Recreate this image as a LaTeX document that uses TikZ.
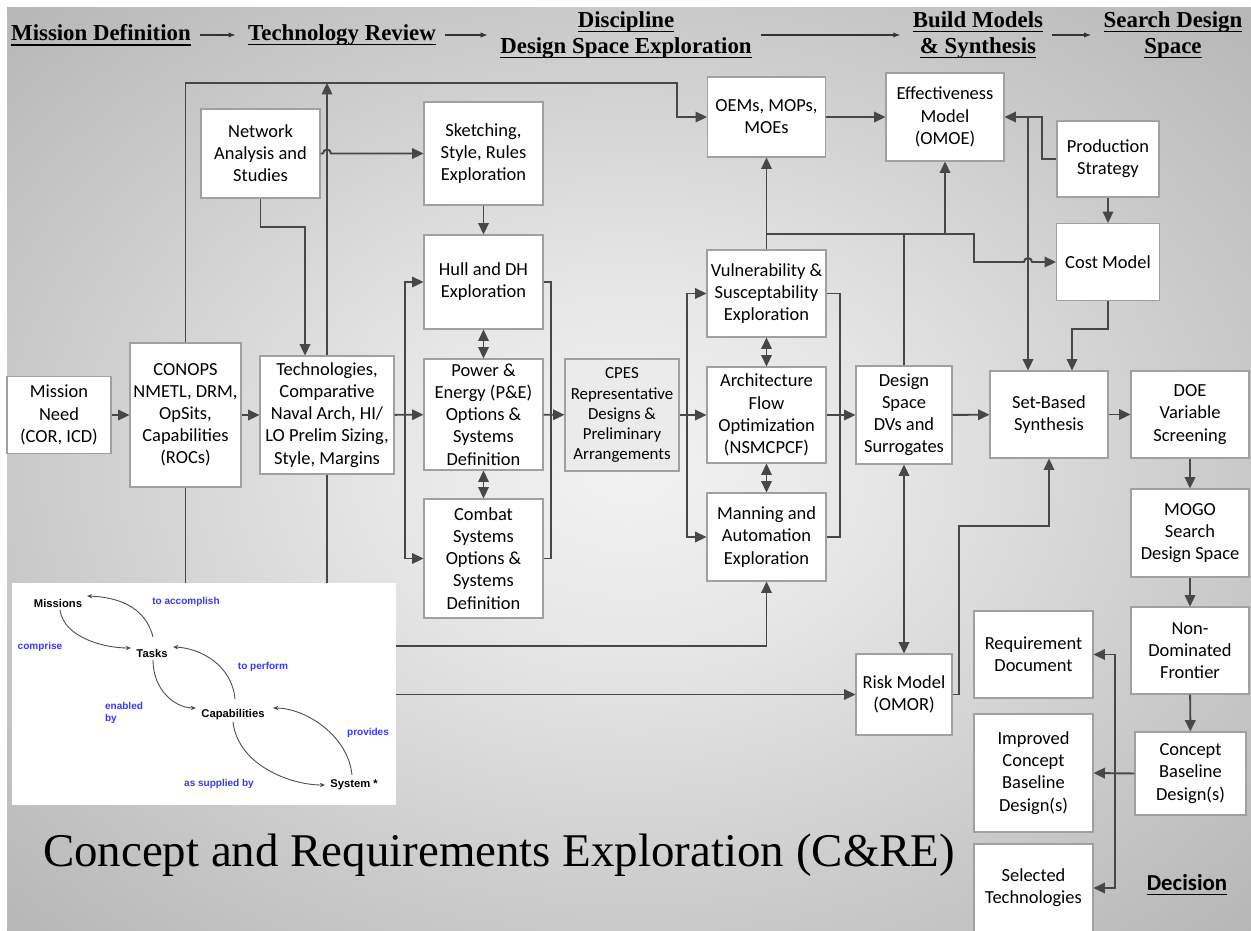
\documentclass[tikz,border=0pt]{standalone}
\usepackage{fontspec}
\setmainfont{Liberation Serif}
\newfontfamily\boxfont{Carlito}
\newfontfamily\arialfont{Liberation Sans}
\usetikzlibrary{calc,positioning,arrows.meta}

\definecolor{linegray}{HTML}{474747}
\definecolor{boxedge}{HTML}{A0A0A0}
\definecolor{cpesfill}{HTML}{EBEBEB}
\definecolor{lblblue}{HTML}{3A3AF0}
\definecolor{bgA}{HTML}{F2F2F2}
\definecolor{bgB}{HTML}{E6E6E6}
\definecolor{bgC}{HTML}{C9C9C9}
\definecolor{bgD}{HTML}{AEAEAE}
\definecolor{bgE}{HTML}{9C9C9C}
\pgfdeclareradialshading{bgshade}{\pgfpoint{0bp}{0bp}}{color(0bp)=(bgA); color(10bp)=(bgB); color(25bp)=(bgC); color(40bp)=(bgD); color(50bp)=(bgE)}

% underline at a fixed depth, crossing descenders
\newcommand\hul[1]{\setbox0\hbox{#1}\rlap{\rule[-2.8pt]{\wd0}{0.8pt}}\box0}

\begin{document}
\begin{tikzpicture}[x=0.02cm,y=-0.02cm,
>={Triangle[length=6.5pt,width=6pt]},
blk/.style={draw=boxedge,line width=0.6pt,fill=white,align=center,inner sep=1pt,
  font=\boxfont\fontsize{10.5}{12.6}\selectfont},
sz/.style 2 args={minimum width=#1*0.02cm,minimum height=#2*0.02cm},
wire/.style={draw=linegray,line width=1.1pt},
hdr/.style={font=\fontsize{13}{14.7}\selectfont\bfseries,align=center,inner sep=1pt},
hdrarrow/.style={draw=black!80,line width=0.6pt,-{Latex[length=4pt,width=3pt]},
  shorten <=4pt,shorten >=6pt},
inlbl/.style={font=\arialfont\bfseries\fontsize{6.4}{7}\selectfont,inner sep=1pt},
inverb/.style={font=\arialfont\bfseries\fontsize{5.7}{7}\selectfont,text=lblblue,
  inner sep=1pt,align=left},
inarrow/.style={draw=black!70,line width=0.5pt,-{Stealth[length=3pt,width=2.5pt]}}]

% background
\useasboundingbox (0,0) rectangle (1251,930);
\fill[white] (0,0) rectangle (1251,930);
\shade[shading=bgshade] (7,7) rectangle (1251,930);

% header
\node[hdr] (hmission) at (101,35) {\hul{Mission Definition}};
\node[hdr] (htech) at (342,35) {\hul{Technology Review}};
\node[hdr] (hdisc) at (626,35) {\hul{Discipline}\\\hul{Design Space Exploration}};
\node[hdr] (hbuild) at (978,35) {\hul{Build Models}\\\hul{\& Synthesis}};
\node[hdr] (hsearch) at (1173,35) {\hul{Search Design}\\\hul{Space}};
\draw[hdrarrow] (hmission) -- (htech);
\draw[hdrarrow] (htech) -- (hdisc);
\draw[hdrarrow] (hdisc) -- (hbuild);
\draw[hdrarrow] (hbuild) -- (hsearch);

% boxes
\node[blk,sz={104}{77}] (need) at (59,415) {Mission\\Need\\(COR, ICD)};
\node[blk,sz={111}{144}] (conops) at (185.5,415) {CONOPS\\NMETL, DRM,\\OpSits,\\Capabilities\\(ROCs)};
\node[blk,sz={134}{118}] (tech) at (327,415) {Technologies,\\Comparative\\Naval Arch, HI/\\LO Prelim Sizing,\\Style, Margins};
\node[blk,sz={119}{89}] (netw) at (260.5,153.5) {Network\\Analysis and\\Studies};
\node[blk,sz={119}{103}] (sketch) at (483.5,153.5) {Sketching,\\Style, Rules\\Exploration};
\node[blk,sz={119}{94}] (hull) at (483.5,282) {Hull and DH\\Exploration};
\node[blk,sz={119}{111}] (power) at (483.5,414.5) {Power \&\\Energy (P\&E)\\Options \&\\Systems\\Definition};
\node[blk,sz={119}{119}] (combat) at (483.5,558.5) {Combat\\Systems\\Options \&\\Systems\\Definition};
\node[blk,sz={114}{112},fill=cpesfill,font=\boxfont\fontsize{9.6}{11.4}\selectfont] (cpes) at (622,415) {CPES\\Representative\\Designs \&\\Preliminary\\Arrangements};
\node[blk,sz={119}{87}] (vuln) at (766.5,293.5) {Vulnerability \&\\Susceptability\\Exploration};
\node[blk,sz={119}{96}] (arch) at (766.5,415) {Architecture\\Flow\\Optimization\\(NSMCPCF)};
\node[blk,sz={119}{88}] (man) at (766.5,537) {Manning and\\Automation\\Exploration};
\node[blk,sz={118}{80}] (oems) at (766.5,117) {OEMs, MOPs,\\MOEs};
\node[blk,sz={118}{88}] (omoe) at (945,117) {Effectiveness\\Model\\(OMOE)};
\node[blk,sz={102}{76}] (prod) at (1108,159) {Production\\Strategy};
\node[blk,sz={103}{77}] (cost) at (1108,262) {Cost Model};
\node[blk,sz={96}{98}] (dspace) at (904,415) {Design\\Space\\DVs and\\Surrogates};
\node[blk,sz={118}{87}] (sbs) at (1049,414.5) {Set-Based\\Synthesis};
\node[blk,sz={118}{87}] (doe) at (1190,414.5) {DOE\\Variable\\Screening};
\node[blk,sz={118}{88}] (mogo) at (1190,533) {MOGO\\Search\\Design Space};
\node[blk,sz={118}{87}] (nondom) at (1190,650.5) {Non-\\Dominated\\Frontier};
\node[blk,sz={111}{83}] (cbase) at (1190.5,773.5) {Concept\\Baseline\\Design(s)};
\node[blk,sz={96}{81}] (risk) at (904,694.5) {Risk Model\\(OMOR)};
\node[blk,sz={119}{87}] (reqdoc) at (1033.5,654.5) {Requirement\\Document};
\node[blk,sz={119}{118}] (improved) at (1033.5,773) {Improved\\Concept\\Baseline\\Design(s)};
\node[blk,sz={119}{88}] (seltech) at (1033.5,888) {Selected\\Technologies};
\node[font=\boxfont\bfseries\fontsize{13}{15}\selectfont] (decision) at (1187,885) {\hul{Decision}};
\node[font=\fontsize{26.7}{30}\selectfont] (title) at (499,855) {Concept and Requirements Exploration (C\&RE)};

% bends
\coordinate (topleft) at (185.5,83);
\coordinate (topright) at (677,83);
\coordinate (ntbend) at (305,227);
\coordinate (lbus) at (405,415);
\coordinate (rbus) at (551,415);
\coordinate (cbus) at (687,415);
\coordinate (vbus) at (840,415);
\coordinate (manbend) at (766.5,646);
\coordinate (bus) at (766.5,234);
\coordinate (costbend) at (974,262);
\coordinate (prodbend) at (1042,159);
\coordinate (sbsdrop) at (1028,117);
\coordinate (costdrop) at (1072,329);
\coordinate (riskbend) at (959,526);
\coordinate (dbus) at (1115,773);

% left part
\draw[wire,->] (need) -- (conops);
\draw[wire,->] (conops) -- (tech);
\draw[wire,->] (tech) -- (power);
\draw[wire,->] (lbus) |- (hull.west);
\draw[wire,->] (lbus) |- (combat.west);
\draw[wire] (hull.east) -| (rbus) |- (combat.east);
\draw[wire,->] (power) -- (cpes);
\draw[wire,<->] (hull) -- (power);
\draw[wire,<->] (power) -- (combat);
\draw[wire,->] (sketch) -- (hull);
\draw[wire,->] (netw.east) -- (323,153.5) arc(180:360:4) -- (sketch.west);
\draw[wire,->] (netw.south) |- (ntbend) -- (ntbend |- tech.north);
\draw[wire,->] (conops.north) -- (topleft) -- (topright) |- (oems.west);
\draw[wire,->] (tech.north) -- (topleft -| tech.north);
\draw[wire,->] (tech.south) |- (manbend) -- (man.south);
\draw[wire,->] (conops.south) |- (risk.west);

% middle part
\draw[wire] (cpes.east) -- (cbus);
\draw[wire,->] (cbus) |- (vuln.west);
\draw[wire,->] (cbus) -- (arch.west);
\draw[wire,->] (cbus) |- (man.west);
\draw[wire,<->] (vuln) -- (arch);
\draw[wire,<->] (arch) -- (man);
\draw[wire] (vuln.east) -| (vbus) |- (man.east);
\draw[wire,->] (arch) -- (dspace);
\draw[wire,->] (vuln.north) -- (oems.south);
\draw[wire] (dspace.north) -- (dspace.north |- bus);
\draw[wire,->] (bus) -| (costbend) -- (1024,262) arc(180:360:4) -- (cost.west);
\draw[wire,->] (omoe.south |- bus) -- (omoe.south);
\draw[wire,->] (oems) -- (omoe);
\draw[wire,<->] (dspace) -- (risk);

% right part
\draw[wire,->] (prod.west) -- (prodbend) |- (omoe.east);
\draw[wire,->] (sbsdrop) -- (sbsdrop |- sbs.north);
\draw[wire,->] (prod) -- (cost);
\draw[wire,->] (cost.south) |- (costdrop) -- (costdrop |- sbs.north);
\draw[wire,->] (risk.east) -| (riskbend) -| (sbs.south);
\draw[wire,->] (dspace) -- (sbs);
\draw[wire,->] (sbs) -- (doe);
\draw[wire,->] (doe) -- (mogo);
\draw[wire,->] (mogo) -- (nondom);
\draw[wire,->] (nondom) -- (cbase);
\draw[wire,->] (cbase.west) -- (improved.east);
\draw[wire,->] (dbus) |- (reqdoc.east);
\draw[wire,->] (dbus) |- (seltech.east);

% inset
\fill[white] (12,583) rectangle (396,805);
\node[inlbl] (missions) at (58,603) {Missions};
\node[inlbl] (tasks) at (152,653) {Tasks};
\node[inlbl] (capab) at (233,715) {Capabilities};
\node[inlbl] (system) at (354,785) {System *};
\node[inverb] (vaccomp) at (186,602) {to accomplish};
\node[inverb] (vcompr) at (40,647) {comprise};
\node[inverb] (vperf) at (263,667) {to perform};
\node[inverb,anchor=west] (venabl) at (103,713) {enabled\\by};
\node[inverb] (vprov) at (368,733) {provides};
\node[inverb] (vsuppl) at (219,784) {as supplied by};
\draw[inarrow] (60,610) .. controls (64,638) and (105,648) .. (131,648);
\draw[inarrow] (153,637) .. controls (145,605) and (115,597) .. (87,596);
\draw[inarrow] (153,660) .. controls (153,690) and (175,708) .. (196,708);
\draw[inarrow] (235,699) .. controls (232,665) and (200,648) .. (173,647);
\draw[inarrow] (233,722) .. controls (238,765) and (290,785) .. (325,785);
\draw[inarrow] (352,775) .. controls (348,735) and (305,708) .. (273,708);
\end{tikzpicture}
\end{document}
